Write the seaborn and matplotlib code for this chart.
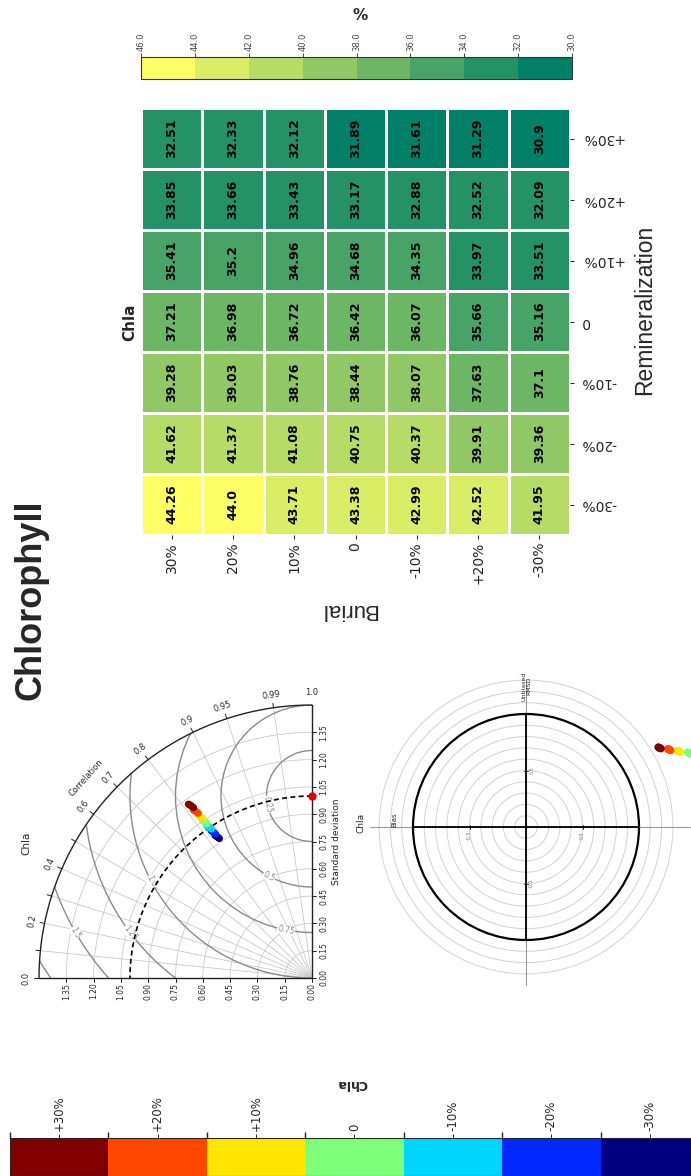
import numpy as np
import pandas as pd
import matplotlib
matplotlib.use("Agg")
import matplotlib.pyplot as plt
import seaborn as sns
from matplotlib.colors import ListedColormap, BoundaryNorm
from matplotlib.patches import Circle, Wedge
from matplotlib.cm import ScalarMappable

# ---------------- data ----------------
remin_labels = ["+30%", "+20%", "+10%", "0", "-10%", "-20%", "-30%"]
burial_labels = ["30%", "20%", "10%", "0", "-10%", "+20%", "-30%"]

# Chla error (%) : rows = remineralization, columns = burial
chla_error = [
    [32.51, 32.33, 32.12, 31.89, 31.61, 31.29, 30.9],
    [33.85, 33.66, 33.43, 33.17, 32.88, 32.52, 32.09],
    [35.41, 35.2, 34.96, 34.68, 34.35, 33.97, 33.51],
    [37.21, 36.98, 36.72, 36.42, 36.07, 35.66, 35.16],
    [39.28, 39.03, 38.76, 38.44, 38.07, 37.63, 37.1],
    [41.62, 41.37, 41.08, 40.75, 40.37, 39.91, 39.36],
    [44.26, 44.0, 43.71, 43.38, 42.99, 42.52, 41.95],
]
error_levels = [30, 32, 34, 36, 38, 40, 42, 44, 46]

# Taylor statistics (normalised std and correlation), rows = remineralization
taylor_std = [
    [1.172, 1.168, 1.163, 1.158, 1.152, 1.146, 1.140],
    [1.130, 1.126, 1.122, 1.117, 1.112, 1.106, 1.100],
    [1.092, 1.088, 1.084, 1.079, 1.074, 1.068, 1.062],
    [1.055, 1.051, 1.047, 1.042, 1.037, 1.031, 1.025],
    [1.018, 1.014, 1.010, 1.005, 1.000, 0.994, 0.988],
    [0.982, 0.978, 0.974, 0.969, 0.964, 0.958, 0.952],
    [0.948, 0.944, 0.940, 0.936, 0.931, 0.926, 0.920],
]
taylor_corr = [
    [0.815, 0.816, 0.817, 0.818, 0.819, 0.820, 0.821],
    [0.817, 0.818, 0.819, 0.820, 0.821, 0.822, 0.823],
    [0.819, 0.820, 0.821, 0.822, 0.823, 0.824, 0.825],
    [0.821, 0.822, 0.823, 0.824, 0.825, 0.826, 0.827],
    [0.823, 0.824, 0.825, 0.826, 0.827, 0.828, 0.829],
    [0.825, 0.826, 0.827, 0.828, 0.829, 0.830, 0.831],
    [0.827, 0.828, 0.829, 0.830, 0.831, 0.832, 0.833],
]
ref_std = 1.0

# Target diagram (normalised bias / unbiased RMSD), rows = remineralization
target_bias = [
    [1.170, 1.174, 1.178, 1.182, 1.186, 1.190, 1.194],
    [1.255, 1.259, 1.263, 1.267, 1.271, 1.275, 1.279],
    [1.340, 1.344, 1.348, 1.352, 1.356, 1.360, 1.364],
    [1.430, 1.434, 1.438, 1.442, 1.446, 1.450, 1.454],
    [1.520, 1.524, 1.528, 1.532, 1.536, 1.540, 1.544],
    [1.610, 1.614, 1.618, 1.622, 1.626, 1.630, 1.634],
    [1.700, 1.704, 1.708, 1.712, 1.716, 1.720, 1.724],
]
target_urmsd = [
    [0.706, 0.704, 0.702, 0.700, 0.698, 0.696, 0.694],
    [0.691, 0.689, 0.687, 0.685, 0.683, 0.681, 0.679],
    [0.676, 0.674, 0.672, 0.670, 0.668, 0.666, 0.664],
    [0.661, 0.659, 0.657, 0.655, 0.653, 0.651, 0.649],
    [0.646, 0.644, 0.642, 0.640, 0.638, 0.636, 0.634],
    [0.631, 0.629, 0.627, 0.625, 0.623, 0.621, 0.619],
    [0.616, 0.614, 0.612, 0.610, 0.608, 0.606, 0.604],
]

corr_ticks = [0.0, 0.2, 0.4, 0.6, 0.7, 0.8, 0.9, 0.95, 0.99, 1.0]
corr_grid = [0.1, 0.2, 0.3, 0.4, 0.5, 0.6, 0.7, 0.8, 0.9, 0.95, 0.99]
std_ticks = [0.00, 0.15, 0.30, 0.45, 0.60, 0.75, 0.90, 1.05, 1.20, 1.35]
std_max = 1.5
rmsd_levels = [0.25, 0.5, 0.75, 1.0, 1.25, 1.5, 1.75]
rmsd_text = ["0.25", "0.5", "0.75", "1.0", "1.25", "1.5", None]
rmsd_label_angle = [191, 242, 259, 208, 217, 210, None]
target_rings = [0.1, 0.2, 0.3, 0.4, 0.5, 0.6, 0.7, 0.8, 0.9, 1.1, 1.2, 1.3]

# ---------------- figure ----------------
W, H, DPI = 691, 1176, 100
sns.set_theme(style="white")
plt.rcParams["font.family"] = ["DejaVu Sans"]
fig = plt.figure(figsize=(W / DPI, H / DPI), dpi=DPI)


def px_box(x0, y0, x1, y1):
    return [x0 / W, 1 - y1 / H, (x1 - x0) / W, (y1 - y0) / H]


def fx(x):
    return x / W


def fy(y):
    return 1 - y / H


# ---------------- heatmap ----------------
ax_hm = fig.add_axes(px_box(141, 108, 570, 535))
ax_cb = fig.add_axes(px_box(141, 57, 572, 79))
summer = plt.get_cmap("summer")
err_norm = BoundaryNorm(error_levels, summer.N)
err_df = pd.DataFrame(chla_error, index=remin_labels, columns=burial_labels)
sns.heatmap(err_df, ax=ax_hm, cmap=summer, norm=err_norm,
            annot=err_df.astype(str), fmt="",
            annot_kws=dict(rotation=90, fontsize=9, fontweight="bold", color="black"),
            linewidths=2.0, linecolor="white", cbar_ax=ax_cb,
            cbar_kws=dict(orientation="horizontal", ticks=error_levels))

cbar = ax_hm.collections[0].colorbar
cbar.ax.invert_xaxis()
cbar.ax.xaxis.set_ticks_position("top")
cbar.set_ticks(error_levels, labels=[f"{v:.1f}" for v in error_levels])
cbar.ax.tick_params(axis="x", labelsize=6, labelrotation=90, length=3, width=0.7,
                    top=True, bottom=False, colors="#444444", pad=1)
cbar.outline.set_linewidth(0.8)
cbar.outline.set_edgecolor("#333333")

ax_hm.yaxis.tick_right()
ax_hm.set_yticks(np.arange(7) + 0.5)
ax_hm.set_yticklabels(remin_labels, rotation=180, fontsize=10, va="center", ha="left")
ax_hm.set_xticks(np.arange(7) + 0.5)
ax_hm.set_xticklabels(burial_labels, rotation=90, fontsize=10)
ax_hm.tick_params(axis="x", bottom=True, length=3, width=0.7, pad=2, colors="#222222")
ax_hm.tick_params(axis="y", right=True, left=False, length=3, width=0.7, pad=5,
                  colors="#222222")
ax_hm.set_xlabel("")
ax_hm.set_ylabel("")

fig.text(fx(360), fy(15), "%", fontsize=11, fontweight="bold", ha="center", va="center")
fig.text(fx(130), fy(322), "Chla", fontsize=11, fontweight="bold", rotation=90,
         ha="center", va="center")
fig.text(fx(645), fy(310), "Remineralization", fontsize=16.5, rotation=90,
         family="Liberation Sans", ha="center", va="center")
fig.text(fx(349), fy(609), "Burial", fontsize=16, rotation=180,
         family="Liberation Sans", ha="center", va="center")
fig.text(fx(31), fy(600), "Chlorophyll", fontsize=26, fontweight="bold", rotation=90,
         family="Liberation Sans", ha="center", va="center")

# ---------------- Taylor diagram ----------------
level_colors = [tuple(c) for c in plt.get_cmap("jet")(np.linspace(1, 0, 7))]

T_OX, T_OY, T_SC = 312, 978, 182
ax_t = fig.add_axes(px_box(0, 680, 350, 1020))


def to_uv(s, c):
    th = np.arccos(np.clip(c, -1, 1))
    return -s * np.sin(th), s * np.cos(th)


arc = np.linspace(0, np.pi / 2, 200)
grid_kw = dict(color="#c9c9c9", lw=0.6, zorder=1)
for s in std_ticks[1:]:
    ax_t.plot(-s * np.sin(arc), s * np.cos(arc), **grid_kw)
for c in corr_grid:
    u, v = to_uv(std_max, c)
    ax_t.plot([0, u], [0, v], **grid_kw)

clip_wedge = Wedge((0, 0), std_max, 90, 180, transform=ax_t.transData,
                   facecolor="none", edgecolor="none")
ax_t.add_patch(clip_wedge)
for r, txt, ang in zip(rmsd_levels, rmsd_text, rmsd_label_angle):
    circ = Circle((0, ref_std), r, fill=False, ec="#8a8a8a", lw=1.0, zorder=2)
    ax_t.add_patch(circ)
    circ.set_clip_path(clip_wedge)
    if txt is not None:
        a = np.deg2rad(ang)
        rot = (ang + 90) % 180
        if rot > 90:
            rot -= 180
        ax_t.text(r * np.cos(a), ref_std + r * np.sin(a), txt, fontsize=5.5,
                  color="#8a8a8a", rotation=rot, ha="center", va="center",
                  zorder=3, bbox=dict(fc="white", ec="none", pad=0.3))

# outer arc and axes
ax_t.plot(-std_max * np.sin(arc), std_max * np.cos(arc), color="#222222", lw=1.0, zorder=4)
ax_t.plot([0, 0], [0, std_max], color="#222222", lw=1.0, zorder=4)
ax_t.plot([0, -std_max], [0, 0], color="#222222", lw=1.0, zorder=4)
# reference std arc
ax_t.plot(-ref_std * np.sin(arc), ref_std * np.cos(arc), color="black", lw=1.2,
          ls=(0, (3, 2)), zorder=4)

for s in std_ticks:
    ax_t.plot([0, 0.02], [s, s], color="#222222", lw=0.7)
    ax_t.plot([-s, -s], [0, -0.02], color="#222222", lw=0.7)
    ax_t.text(0.066, s, f"{s:.2f}", fontsize=5.5, rotation=90, ha="center", va="center")
    ax_t.text(-s, -0.072, f"{s:.2f}", fontsize=5.5, rotation=90, ha="center", va="center")
ax_t.text(0.137, 0.747, "Standard deviation", fontsize=6.5, rotation=90,
          ha="center", va="center")

for c in np.arange(0.0, 1.0, 0.1).tolist() + [0.95, 0.99]:
    u0, v0 = to_uv(std_max, c)
    u1, v1 = to_uv(std_max + 0.025, c)
    ax_t.plot([u0, u1], [v0, v1], color="#222222", lw=0.7)
for c in corr_ticks:
    u, v = to_uv(std_max + 0.07, c)
    ax_t.text(u, v, f"{c:g}" if c not in (0.0, 1.0) else f"{c:.1f}", fontsize=6,
              rotation=np.degrees(np.arccos(c)), ha="center", va="center")
uc, vc = -1.66 * np.sin(np.deg2rad(48.5)), 1.66 * np.cos(np.deg2rad(48.5))
ax_t.text(uc, vc, "Correlation", fontsize=6, rotation=48.5, ha="center", va="center")

ax_t.plot([0], [ref_std], "o", color="#e00000", ms=5, zorder=6)

taylor_rows = []
for i in range(6, -1, -1):
    for j in range(7):
        u, v = to_uv(taylor_std[i][j], taylor_corr[i][j])
        taylor_rows.append(dict(u=u, v=v, remin=remin_labels[i]))
taylor_df = pd.DataFrame(taylor_rows)
palette = dict(zip(remin_labels, level_colors))
sns.scatterplot(data=taylor_df, x="u", y="v", hue="remin", palette=palette,
                legend=False, s=26, linewidth=0, ax=ax_t, zorder=7)
ax_t.set_xlim((0 - T_OX) / T_SC, (350 - T_OX) / T_SC)
ax_t.set_ylim((T_OY - 1020) / T_SC, (T_OY - 680) / T_SC)
ax_t.axis("off")
fig.text(fx(26), fy(843), "Chla", fontsize=7.5, rotation=90, ha="center", va="center")

# ---------------- Target diagram ----------------
G_CX, G_CY, G_SC = 526, 827, 113
ax_g = fig.add_axes(px_box(300, 660, 691, 1010))
for r in target_rings:
    ax_g.add_patch(Circle((0, 0), r, fill=False, ec="#d2d2d2", lw=0.7, zorder=1))
ax_g.plot([0, 0], [-1.40, 1.30], color="#9a9a9a", lw=0.8, zorder=2)
ax_g.plot([-1.38, 1.45], [0, 0], color="#9a9a9a", lw=0.8, zorder=2)
ax_g.plot([0, 0], [-1, 1], color="black", lw=1.3, zorder=3)
ax_g.plot([-1, 1], [0, 0], color="black", lw=1.3, zorder=3)
ax_g.add_patch(Circle((0, 0), 1.0, fill=False, ec="black", lw=1.6, zorder=3))
for t in (-1.0, -0.5, 0.5, 1.0):
    ax_g.plot([t, t], [-0.02, 0.02], color="black", lw=0.6, zorder=3)
    ax_g.plot([-0.02, 0.02], [t, t], color="black", lw=0.6, zorder=3)
for t in (-0.5, 0.5):
    ax_g.text(t, -0.07, f"{t:g}", fontsize=3.5, color="#777777", rotation=90,
              ha="center", va="center")
    ax_g.text(0.05, t, f"{t:g}", fontsize=3.5, color="#777777", rotation=90,
              ha="center", va="center")

target_rows = []
for i in range(7):
    for j in range(7):
        target_rows.append(dict(x=target_bias[i][j], y=target_urmsd[i][j],
                                remin=remin_labels[i]))
target_df = pd.DataFrame(target_rows).iloc[::-1]
sns.scatterplot(data=target_df, x="x", y="y", hue="remin", palette=palette,
                legend=False, s=30, linewidth=0, ax=ax_g, zorder=6, clip_on=False)
ax_g.set_xlim((300 - G_CX) / G_SC, (691 - G_CX) / G_SC)
ax_g.set_ylim((G_CY - 1010) / G_SC, (G_CY - 660) / G_SC)
ax_g.axis("off")

fig.text(fx(526), fy(686), "Unbiased\nRMSD", fontsize=4.5, rotation=90,
         ha="center", va="center", linespacing=1.0)
fig.text(fx(394), fy(820), "Bias", fontsize=5, rotation=90, ha="center", va="center")
fig.text(fx(361), fy(823), "Chla", fontsize=6.5, rotation=90, ha="center", va="center")

# ---------------- level colour bar ----------------
ax_lc = fig.add_axes(px_box(10, 1138, 699, 1176))
level_norm = BoundaryNorm(np.arange(8), 7)
level_sm = ScalarMappable(norm=level_norm, cmap=ListedColormap(level_colors))
lcb = fig.colorbar(level_sm, cax=ax_lc, orientation="horizontal",
                   ticks=np.arange(7) + 0.5)
lcb.set_ticklabels(remin_labels)
ax_lc.xaxis.set_ticks_position("top")
ax_lc.tick_params(axis="x", labelsize=8.5, labelrotation=90, length=3, width=0.7,
                  top=True, bottom=False, pad=2)
lcb.outline.set_linewidth(0.8)
fig.text(fx(352), fy(1083), "Chla", fontsize=9, fontweight="bold", rotation=180,
         ha="center", va="center")

fig.savefig("out.png", dpi=DPI)
